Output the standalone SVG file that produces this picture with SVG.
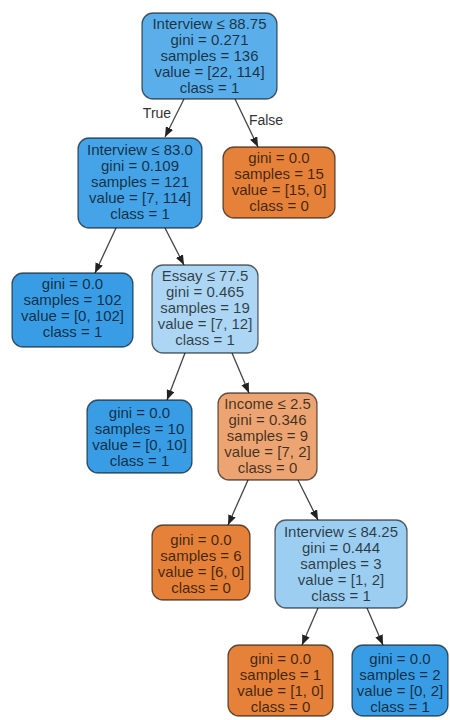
<svg xmlns="http://www.w3.org/2000/svg" width="450" height="720" viewBox="0 0 450 720">
<style>
.box{stroke:#000;stroke-opacity:0.6;stroke-width:1.3}
.t{font-family:"Liberation Sans",Arial,sans-serif;font-size:15px;fill:#000;fill-opacity:0.72;text-anchor:middle}
.lbl{font-family:"Liberation Sans",Arial,sans-serif;font-size:14px;fill:#333;text-anchor:middle}
.e{stroke:#444;stroke-width:1.3;fill:none}
</style>
<defs>
<marker id="ah" markerUnits="userSpaceOnUse" markerWidth="11" markerHeight="8" refX="10" refY="4" orient="auto">
<path d="M0,0 L10,4 L0,8 z" fill="#222"/>
</marker>
</defs>
<rect width="450" height="720" fill="#fff"/>
<g id="connectors">
<line class="e" x1="184" y1="99" x2="165" y2="137" marker-end="url(#ah)"/>
<line class="e" x1="235" y1="99" x2="258" y2="147" marker-end="url(#ah)"/>
<line class="e" x1="116" y1="228" x2="95" y2="273" marker-end="url(#ah)"/>
<line class="e" x1="165" y1="228" x2="184" y2="265" marker-end="url(#ah)"/>
<line class="e" x1="185" y1="353" x2="167" y2="400" marker-end="url(#ah)"/>
<line class="e" x1="232" y1="353" x2="249" y2="393" marker-end="url(#ah)"/>
<line class="e" x1="248" y1="480" x2="228" y2="525" marker-end="url(#ah)"/>
<line class="e" x1="298" y1="480" x2="318" y2="520" marker-end="url(#ah)"/>
<line class="e" x1="318" y1="608" x2="302" y2="645" marker-end="url(#ah)"/>
<line class="e" x1="367" y1="608" x2="383" y2="645" marker-end="url(#ah)"/>
<text class="lbl" x="157" y="118">True</text>
<text class="lbl" x="266" y="125">False</text>
</g>
<g id="n0">
<rect class="box" x="142" y="13" width="135" height="86" rx="11" fill="#5aaeea"/>
<text class="t" x="209.5" y="29">Interview ≤ 88.75</text>
<text class="t" x="209.5" y="45">gini = 0.271</text>
<text class="t" x="209.5" y="61">samples = 136</text>
<text class="t" x="209.5" y="77">value = [22, 114]</text>
<text class="t" x="209.5" y="93">class = 1</text>
</g>
<g id="n1">
<rect class="box" x="78" y="138" width="124" height="90" rx="11" fill="#45a3e7"/>
<text class="t" x="140" y="155">Interview ≤ 83.0</text>
<text class="t" x="140" y="171">gini = 0.109</text>
<text class="t" x="140" y="187">samples = 121</text>
<text class="t" x="140" y="203">value = [7, 114]</text>
<text class="t" x="140" y="219">class = 1</text>
</g>
<g id="n2">
<rect class="box" x="223" y="147" width="112" height="71" rx="11" fill="#e58139"/>
<text class="t" x="279" y="163">gini = 0.0</text>
<text class="t" x="279" y="179">samples = 15</text>
<text class="t" x="279" y="195">value = [15, 0]</text>
<text class="t" x="279" y="211">class = 0</text>
</g>
<g id="n3">
<rect class="box" x="12" y="273" width="121" height="74" rx="11" fill="#399de5"/>
<text class="t" x="72.5" y="289">gini = 0.0</text>
<text class="t" x="72.5" y="305">samples = 102</text>
<text class="t" x="72.5" y="321">value = [0, 102]</text>
<text class="t" x="72.5" y="337">class = 1</text>
</g>
<g id="n4">
<rect class="box" x="152" y="265" width="106" height="88" rx="11" fill="#acd6f4"/>
<text class="t" x="205" y="281">Essay ≤ 77.5</text>
<text class="t" x="205" y="297">gini = 0.465</text>
<text class="t" x="205" y="313">samples = 19</text>
<text class="t" x="205" y="329">value = [7, 12]</text>
<text class="t" x="205" y="345">class = 1</text>
</g>
<g id="n5">
<rect class="box" x="87" y="400" width="105" height="73" rx="11" fill="#399de5"/>
<text class="t" x="139.5" y="418">gini = 0.0</text>
<text class="t" x="139.5" y="434">samples = 10</text>
<text class="t" x="139.5" y="450">value = [0, 10]</text>
<text class="t" x="139.5" y="466">class = 1</text>
</g>
<g id="n6">
<rect class="box" x="218" y="393" width="99" height="87" rx="11" fill="#eca572"/>
<text class="t" x="267.5" y="409">Income ≤ 2.5</text>
<text class="t" x="267.5" y="425">gini = 0.346</text>
<text class="t" x="267.5" y="441">samples = 9</text>
<text class="t" x="267.5" y="457">value = [7, 2]</text>
<text class="t" x="267.5" y="473">class = 0</text>
</g>
<g id="n7">
<rect class="box" x="152" y="525" width="98" height="75" rx="11" fill="#e58139"/>
<text class="t" x="201" y="545">gini = 0.0</text>
<text class="t" x="201" y="561">samples = 6</text>
<text class="t" x="201" y="577">value = [6, 0]</text>
<text class="t" x="201" y="593">class = 0</text>
</g>
<g id="n8">
<rect class="box" x="275" y="520" width="132" height="88" rx="11" fill="#9ccef2"/>
<text class="t" x="341" y="537">Interview ≤ 84.25</text>
<text class="t" x="341" y="553">gini = 0.444</text>
<text class="t" x="341" y="569">samples = 3</text>
<text class="t" x="341" y="585">value = [1, 2]</text>
<text class="t" x="341" y="601">class = 1</text>
</g>
<g id="n9">
<rect class="box" x="228" y="645" width="105" height="71" rx="11" fill="#e58139"/>
<text class="t" x="280.5" y="664">gini = 0.0</text>
<text class="t" x="280.5" y="680">samples = 1</text>
<text class="t" x="280.5" y="696">value = [1, 0]</text>
<text class="t" x="280.5" y="712">class = 0</text>
</g>
<g id="n10">
<rect class="box" x="352" y="645" width="96" height="71" rx="11" fill="#399de5"/>
<text class="t" x="400" y="664">gini = 0.0</text>
<text class="t" x="400" y="680">samples = 2</text>
<text class="t" x="400" y="696">value = [0, 2]</text>
<text class="t" x="400" y="712">class = 1</text>
</g>
</svg>
